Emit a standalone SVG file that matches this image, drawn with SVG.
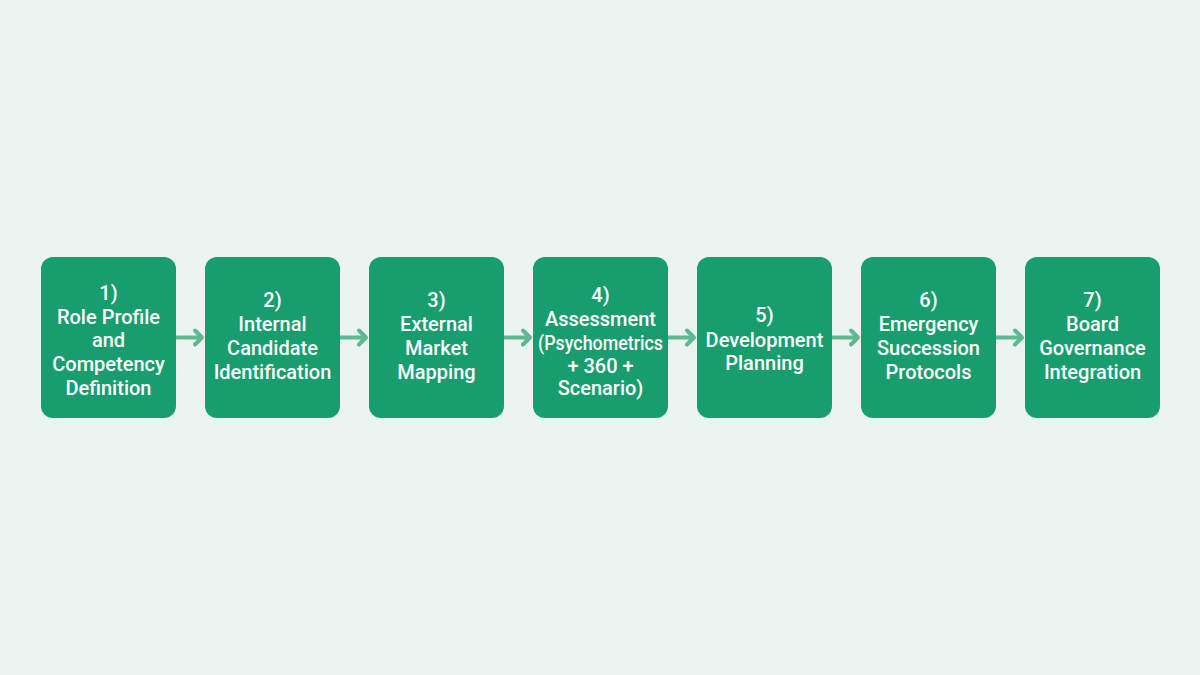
<svg xmlns="http://www.w3.org/2000/svg" width="1200" height="675" viewBox="0 0 1200 675">
<defs>
<style>
.box{fill:#189d6e}
.t{font-family:Roboto,"Liberation Sans",sans-serif;font-weight:500;font-size:20px;fill:#ffffff;text-anchor:middle}
.c{stroke:#5fb894;stroke-width:4;fill:none;stroke-linecap:round;stroke-linejoin:round}
</style>
</defs>
<rect width="1200" height="675" fill="#eaf5f1"/>
<g id="connectors">
<path class="c" d="M177 337.5H202M195 330.5l7 7l-7 7"/>
<path class="c" d="M341 337.5H366M359 330.5l7 7l-7 7"/>
<path class="c" d="M505 337.5H530M523 330.5l7 7l-7 7"/>
<path class="c" d="M669 337.5H694M687 330.5l7 7l-7 7"/>
<path class="c" d="M833 337.5H858M851 330.5l7 7l-7 7"/>
<path class="c" d="M997 337.5H1022M1015 330.5l7 7l-7 7"/>
</g>
<g id="n1"><rect class="box" x="41" y="257" width="135" height="161" rx="12"/>
<text class="t"><tspan x="108.5" y="300">1)</tspan><tspan x="108.5" y="323.5">Role Profile</tspan><tspan x="108.5" y="347">and</tspan><tspan x="108.5" y="371">Competency</tspan><tspan x="108.5" y="394.5">Definition</tspan></text></g>
<g id="n2"><rect class="box" x="205" y="257" width="135" height="161" rx="12"/>
<text class="t"><tspan x="272.5" y="307">2)</tspan><tspan x="272.5" y="331">Internal</tspan><tspan x="272.5" y="355">Candidate</tspan><tspan x="272.5" y="379">Identification</tspan></text></g>
<g id="n3"><rect class="box" x="369" y="257" width="135" height="161" rx="12"/>
<text class="t"><tspan x="436.5" y="307">3)</tspan><tspan x="436.5" y="331">External</tspan><tspan x="436.5" y="355">Market</tspan><tspan x="436.5" y="379">Mapping</tspan></text></g>
<g id="n4"><rect class="box" x="533" y="257" width="135" height="161" rx="12"/>
<text class="t"><tspan x="600.5" y="302">4)</tspan><tspan x="600.5" y="326">Assessment</tspan><tspan x="600.5" y="350" textLength="125" lengthAdjust="spacingAndGlyphs">(Psychometrics</tspan><tspan x="600.5" y="372.5">+ 360 +</tspan><tspan x="600.5" y="394.5">Scenario)</tspan></text></g>
<g id="n5"><rect class="box" x="697" y="257" width="135" height="161" rx="12"/>
<text class="t"><tspan x="764.5" y="322">5)</tspan><tspan x="764.5" y="346.5">Development</tspan><tspan x="764.5" y="370">Planning</tspan></text></g>
<g id="n6"><rect class="box" x="861" y="257" width="135" height="161" rx="12"/>
<text class="t"><tspan x="928.5" y="307">6)</tspan><tspan x="928.5" y="331">Emergency</tspan><tspan x="928.5" y="355">Succession</tspan><tspan x="928.5" y="379">Protocols</tspan></text></g>
<g id="n7"><rect class="box" x="1025" y="257" width="135" height="161" rx="12"/>
<text class="t"><tspan x="1092.5" y="307">7)</tspan><tspan x="1092.5" y="331">Board</tspan><tspan x="1092.5" y="355">Governance</tspan><tspan x="1092.5" y="379">Integration</tspan></text></g>
</svg>
